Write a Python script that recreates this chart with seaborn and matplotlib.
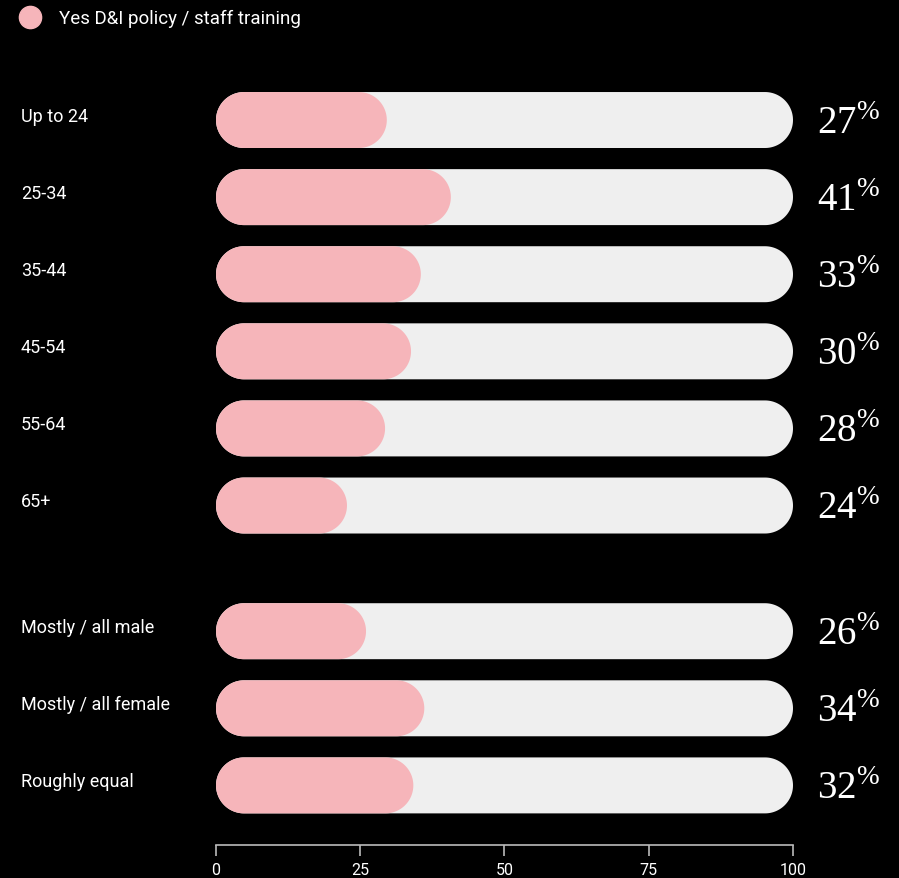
import matplotlib
matplotlib.use("Agg")
import numpy as np
import matplotlib.pyplot as plt
import matplotlib.transforms as mtransforms
from matplotlib.patches import Polygon
from matplotlib.lines import Line2D
import seaborn as sns
import pandas as pd

# ---- data ----
categories = ["Up to 24", "25-34", "35-44", "45-54", "55-64", "65+",
              "Mostly / all male", "Mostly / all female", "Roughly equal"]
# bar lengths as drawn in the picture
bar_values = [29.6, 40.7, 35.5, 33.8, 29.3, 22.7, 26.0, 36.1, 34.2]
# percentages printed at the right
pct_labels = [27, 41, 33, 30, 28, 24, 26, 34, 32]
row_pos = [0, 1, 2, 3, 4, 5, 6.63, 7.63, 8.63]
x_ticks = [0, 25, 50, 75, 100]
track_max = 100
legend_label = "Yes D&I policy / staff training"

PINK = "#f6b5ba"
TRACK = "#efefef"

sns.set_theme(style="ticks", rc={
    "figure.facecolor": "black",
    "axes.facecolor": "black",
    "savefig.facecolor": "black",
    "text.color": "white",
    "mathtext.fontset": "custom",
    "mathtext.rm": "Liberation Serif",
})
plt.rcParams["font.family"] = ["Roboto", "DejaVu Sans"]

W, H = 899, 879
fig = plt.figure(figsize=(W / 100, H / 100), dpi=100)
ax_left, ax_right, ax_top, ax_bottom = 216, 793, 80, 846
ax = fig.add_axes([ax_left / W, 1 - ax_bottom / H,
                   (ax_right - ax_left) / W, (ax_bottom - ax_top) / H])

df = pd.DataFrame({"cat": categories, "value": bar_values, "pos": row_pos,
                   "track": [track_max] * len(bar_values)})

bar_w = 0.726
sns.barplot(data=df, x="track", y="pos", orient="h", native_scale=True,
            color=TRACK, saturation=1, width=bar_w, errorbar=None, ax=ax)
sns.barplot(data=df, x="value", y="pos", orient="h", native_scale=True,
            color=PINK, saturation=1, width=bar_w, errorbar=None, ax=ax)

ax.set_xlim(0, track_max)
ylo, yhi = -0.532, 9.403
ax.set_ylim(yhi, ylo)

# convert rectangles to pill shapes (semicircular ends in pixel space)
x_per_px = track_max / (ax_right - ax_left)
y_per_px = (yhi - ylo) / (ax_bottom - ax_top)
for p in list(ax.patches):
    x0, y0 = p.get_x(), p.get_y()
    w, h = p.get_width(), p.get_height()
    fc = p.get_facecolor()
    z = p.get_zorder()
    p.remove()
    ry = abs(h) / 2
    rx = (ry / y_per_px) * x_per_px
    rx = min(rx, w / 2)
    yc = y0 + h / 2
    t_r = np.linspace(-np.pi / 2, np.pi / 2, 60)
    t_l = np.linspace(np.pi / 2, 3 * np.pi / 2, 60)
    right = np.column_stack([x0 + w - rx + rx * np.cos(t_r), yc + ry * np.sin(t_r)])
    left = np.column_stack([x0 + rx + rx * np.cos(t_l), yc + ry * np.sin(t_l)])
    verts = np.vstack([right, left])
    ax.add_patch(Polygon(verts, closed=True, facecolor=fc, edgecolor="none",
                         zorder=z, antialiased=True))

# category labels
trans = mtransforms.blended_transform_factory(ax.transAxes, ax.transData)
label_x = (21 - ax_left) / (ax_right - ax_left)
for cat, pos in zip(categories, row_pos):
    ax.annotate(cat, xy=(label_x, pos), xycoords=trans, xytext=(0, 3),
                textcoords="offset points", ha="left", va="center",
                color="white", fontsize=13, annotation_clip=False)

# percentage labels
for v, pos in zip(pct_labels, row_pos):
    ax.annotate(f"{v}" + r"$^{\mathrm{\%}}$", xy=(track_max, pos),
                xytext=(17, -9), textcoords="offset points",
                ha="left", va="baseline", color="white", fontsize=28,
                family="Liberation Serif", annotation_clip=False)

# axes styling
ax.set_yticks([])
ax.set_xticks(x_ticks)
ax.set_xlabel("")
ax.set_ylabel("")
for s in ["left", "top", "right"]:
    ax.spines[s].set_visible(False)
ax.spines["bottom"].set_color("#bbbbbb")
ax.spines["bottom"].set_linewidth(1.2)
ax.tick_params(axis="x", colors="#bbbbbb", length=8, width=1.2, pad=4,
               labelsize=11.5, labelcolor="white")

# legend
handle = Line2D([], [], marker="o", ls="", markersize=16,
                markerfacecolor=PINK, markeredgecolor=PINK)
fig.legend(handles=[handle], labels=[legend_label], loc="upper left",
           bbox_to_anchor=(18 / W, 1 - 10 / H), frameon=False, fontsize=13.5,
           labelcolor="white", handlelength=1.3, handletextpad=0.88,
           borderpad=0, borderaxespad=0)

fig.savefig("out.png", dpi=100, facecolor="black")
